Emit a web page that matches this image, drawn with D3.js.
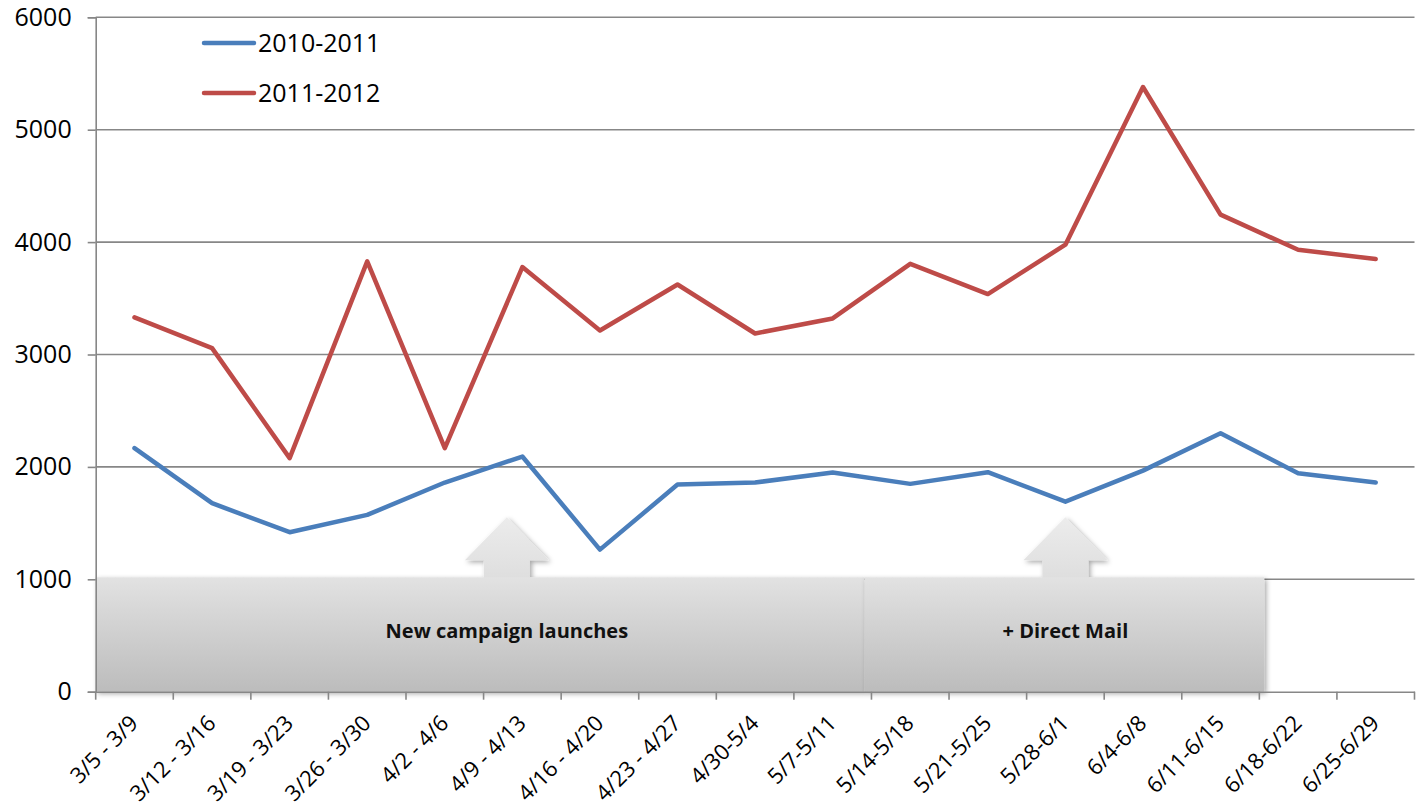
<!DOCTYPE html>
<html>
<head>
<meta charset="utf-8">
<script src="https://cdn.jsdelivr.net/npm/d3@7"></script>
<style>
  html, body { margin: 0; padding: 0; background: #fff; }
  svg { display: block; font-family: "Open Sans", "Noto Sans", sans-serif; }
</style>
</head>
<body>
<div id="chart"></div>
<script>
const weeks = ["3/5 - 3/9", "3/12 - 3/16", "3/19 - 3/23", "3/26 - 3/30", "4/2 - 4/6",
  "4/9 - 4/13", "4/16 - 4/20", "4/23 - 4/27", "4/30-5/4", "5/7-5/11", "5/14-5/18",
  "5/21-5/25", "5/28-6/1", "6/4-6/8", "6/11-6/15", "6/18-6/22", "6/25-6/29"]

const s2010 = [2167, 1677, 1419, 1573, 1861, 2092, 1264, 1843, 1861, 1950, 1849,
  1953, 1691, 1967, 2300, 1944, 1861]
const s2011 = [3330, 3057, 2078, 3828, 2167, 3778, 3214, 3623, 3187, 3321, 3807,
  3538, 3977, 5380, 4244, 3932, 3849]

const seriesNames = ["2010-2011", "2011-2012"]
const yTicks = [0, 1000, 2000, 3000, 4000, 5000, 6000]

// callouts: label, left edge week, right edge week, week the arrow points at
const notes = [
  { text: "New campaign launches", from: null, to: "5/14-5/18", at: "4/9 - 4/13", atFrac: 0.3 },
  { text: "+ Direct Mail", from: "5/14-5/18", to: "6/18-6/22", at: "5/28-6/1", atFrac: 0.5 }
]

const width = 1416
const height = 812
const margin = ({ top: 17.3, right: 1.5, bottom: 120.3, left: 95.7 })

const svg = d3.select("#chart").append("svg")
  .attr("width", width)
  .attr("height", height)

const defs = svg.append("defs")
const grad = defs.append("linearGradient")
  .attr("id", "boxFill")
  .attr("x1", 0).attr("y1", 0).attr("x2", 0).attr("y2", 1)
grad.append("stop").attr("offset", "0%").attr("stop-color", "#e2e2e2")
grad.append("stop").attr("offset", "100%").attr("stop-color", "#bcbcbc")

const arrowGrad = defs.append("linearGradient")
  .attr("id", "arrowFill")
  .attr("x1", 0).attr("y1", 0).attr("x2", 0).attr("y2", 1)
arrowGrad.append("stop").attr("offset", "0%").attr("stop-color", "#ececec")
arrowGrad.append("stop").attr("offset", "100%").attr("stop-color", "#dedede")

const shadow = defs.append("filter")
  .attr("id", "shadow")
  .attr("x", "-5%").attr("y", "-20%").attr("width", "115%").attr("height", "150%")
shadow.append("feDropShadow")
  .attr("dx", 2).attr("dy", 2).attr("stdDeviation", 2.5)
  .attr("flood-color", "#000").attr("flood-opacity", 0.35)

const x = d3.scaleBand()
  .domain(weeks)
  .range([margin.left, width - margin.right])

const y = d3.scaleLinear()
  .domain([0, 6000])
  .range([height - margin.bottom, margin.top])

const cx = d => x(d) + x.bandwidth() / 2

// gridlines
svg.append("g")
  .selectAll("line")
  .data(yTicks.filter(d => d > 0))
  .join("line")
  .attr("x1", margin.left)
  .attr("x2", width - margin.right)
  .attr("y1", d => y(d))
  .attr("y2", d => y(d))
  .attr("stroke", "#878787")
  .attr("stroke-width", 1.6)

// lines
const line = d3.line()
  .x((d, i) => cx(weeks[i]))
  .y(d => y(d))

const series = [
  { name: seriesNames[0], values: s2010, color: "#4a7ebb" },
  { name: seriesNames[1], values: s2011, color: "#be4b48" }
]

series.forEach(s => {
  svg.append("path")
    .datum(s.values)
    .attr("fill", "none")
    .attr("stroke", s.color)
    .attr("stroke-width", 4.5)
    .attr("stroke-linejoin", "round")
    .attr("stroke-linecap", "round")
    .attr("d", line)
})

// callout boxes with up arrows
const boxTop = y(1000) - 2
const boxBottom = y(0)

notes.forEach(n => {
  const g = svg.append("g").attr("filter", "url(#shadow)")
  const ax = x(n.at) + n.atFrac * x.bandwidth()
  const tip = boxTop - 60
  const headBase = boxTop - 17
  g.append("path")
    .attr("d", `M${ax},${tip} L${ax + 42},${headBase} L${ax + 23},${headBase} L${ax + 23},${boxTop + 2}
      L${ax - 23},${boxTop + 2} L${ax - 23},${headBase} L${ax - 42},${headBase} Z`)
    .attr("fill", "url(#arrowFill)")
  const x0 = n.from ? x(n.from) - 7 : margin.left
  const x1 = n.from ? x(n.to) + 5 : x(n.to) - 7
  g.append("rect")
    .attr("x", x0)
    .attr("y", boxTop)
    .attr("width", x1 - x0)
    .attr("height", boxBottom - boxTop)
    .attr("fill", "url(#boxFill)")
  svg.append("text")
    .attr("x", ax)
    .attr("y", (boxTop + boxBottom) / 2 + 3)
    .attr("text-anchor", "middle")
    .attr("font-size", 20)
    .attr("font-weight", "bold")
    .attr("fill", "#111")
    .text(n.text)
})

// y axis
svg.append("g")
  .attr("transform", `translate(${margin.left},0)`)
  .call(d3.axisLeft(y).tickValues(yTicks).tickSize(8).tickPadding(16).tickFormat(d3.format("d")))
  .call(g => g.select(".domain").attr("stroke", "#878787").attr("stroke-width", 1.6))
  .call(g => g.selectAll(".tick line").attr("stroke", "#878787").attr("stroke-width", 1.6))
  .call(g => g.selectAll(".tick text")
    .attr("font-size", 25)
    .attr("fill", "#000")
    .attr("font-family", "Open Sans, sans-serif"))

// x axis
svg.append("g")
  .attr("transform", `translate(0,${y(0)})`)
  .call(d3.axisBottom(x).tickSize(0).tickSizeOuter(0))
  .call(g => g.select(".domain").attr("stroke", "#878787").attr("stroke-width", 1.6))
  .call(g => g.selectAll(".tick text")
    .attr("font-size", 22)
    .attr("fill", "#000")
    .attr("font-family", "Open Sans, sans-serif")
    .attr("text-anchor", "end")
    .attr("dy", 0)
    .attr("y", 0)
    .attr("transform", "translate(5,33) rotate(-45)"))

// category tick marks at band edges
svg.append("g")
  .selectAll("line")
  .data(weeks.concat(["end"]))
  .join("line")
  .attr("x1", (d, i) => i < weeks.length ? x(d) : x.range()[1])
  .attr("x2", (d, i) => i < weeks.length ? x(d) : x.range()[1])
  .attr("y1", y(0))
  .attr("y2", y(0) + 8)
  .attr("stroke", "#878787")
  .attr("stroke-width", 1.6)

// legend
const legend = svg.append("g")
series.forEach((s, i) => {
  const ly = 43 + i * 50
  legend.append("line")
    .attr("x1", 204).attr("x2", 254)
    .attr("y1", ly).attr("y2", ly)
    .attr("stroke", s.color)
    .attr("stroke-width", 4.5)
    .attr("stroke-linecap", "round")
  legend.append("text")
    .attr("x", 258)
    .attr("y", ly + 9)
    .attr("font-size", 25)
    .attr("fill", "#000")
    .text(s.name)
})
</script>
</body>
</html>
